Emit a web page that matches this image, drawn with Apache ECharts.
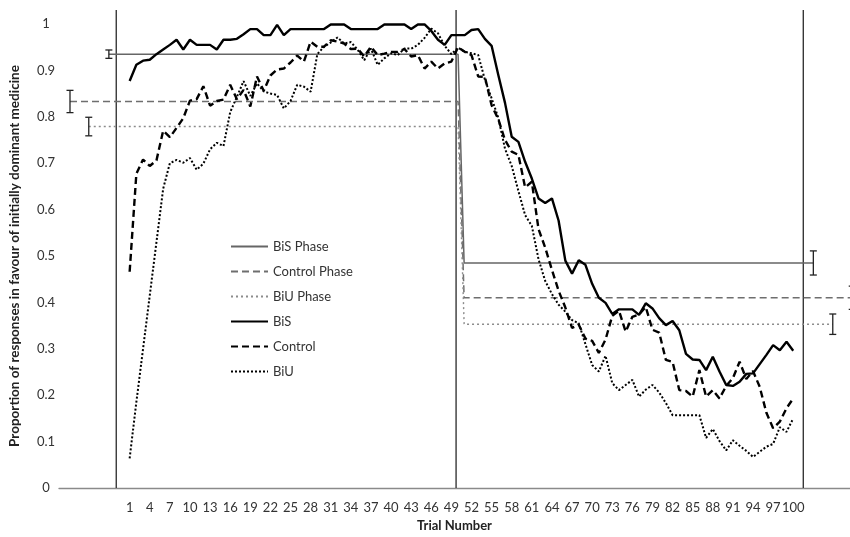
<!DOCTYPE html>
<html>
<head>
<meta charset="utf-8">
<script src="https://cdn.jsdelivr.net/npm/echarts@6/dist/echarts.min.js"></script>
<style>
  html, body { margin: 0; padding: 0; background: #fff; }
  #chart { width: 850px; height: 537px; }
</style>
</head>
<body>
<div id="chart"></div>
<script>
// Trial numbers (x categories) and axis tick labels
const trials = Array.from({ length: 100 }, (_, i) => i + 1);
const xTickLabels = [1, 4, 7, 10, 13, 16, 19, 22, 25, 28, 31, 34, 37, 40, 43, 46, 49,
  52, 55, 58, 61, 64, 67, 70, 73, 76, 79, 82, 85, 88, 91, 94, 97, 100];
const yTickLabels = [0, 0.1, 0.2, 0.3, 0.4, 0.5, 0.6, 0.7, 0.8, 0.9, 1];

// Proportion of responses favouring the initially dominant medicine, per trial
const bis = [
  0.877, 0.912, 0.921, 0.923, 0.935, 0.945, 0.955, 0.966, 0.945, 0.966,
  0.955, 0.955, 0.955, 0.945, 0.966, 0.966, 0.968, 0.978, 0.989, 0.989,
  0.976, 0.976, 0.998, 0.976, 0.989, 0.989, 0.989, 0.989, 0.989, 0.989,
  0.999, 0.999, 0.999, 0.989, 0.989, 0.989, 0.989, 0.989, 0.999, 0.999,
  0.999, 0.999, 0.989, 0.999, 0.999, 0.985, 0.966, 0.955, 0.976, 0.976,
  0.976, 0.987, 0.989, 0.968, 0.953, 0.890, 0.830, 0.757, 0.746, 0.703,
  0.667, 0.624, 0.614, 0.624, 0.576, 0.490, 0.462, 0.491, 0.481, 0.440,
  0.410, 0.399, 0.375, 0.385, 0.385, 0.385, 0.373, 0.398, 0.387, 0.366,
  0.351, 0.360, 0.340, 0.289, 0.277, 0.276, 0.254, 0.283, 0.251, 0.222,
  0.220, 0.229, 0.246, 0.247, 0.267, 0.287, 0.308, 0.297, 0.315, 0.296
];
const control = [
  0.466, 0.677, 0.708, 0.694, 0.706, 0.770, 0.756, 0.776, 0.797, 0.835,
  0.838, 0.866, 0.824, 0.834, 0.837, 0.869, 0.838, 0.858, 0.822, 0.887,
  0.856, 0.889, 0.902, 0.904, 0.917, 0.932, 0.919, 0.962, 0.951, 0.951,
  0.965, 0.962, 0.958, 0.946, 0.947, 0.930, 0.951, 0.933, 0.936, 0.940,
  0.940, 0.946, 0.930, 0.933, 0.904, 0.919, 0.904, 0.915, 0.919, 0.950,
  0.940, 0.933, 0.887, 0.886, 0.825, 0.795, 0.750, 0.725, 0.718, 0.648,
  0.660, 0.558, 0.518, 0.470, 0.425, 0.389, 0.345, 0.352, 0.322, 0.317,
  0.291, 0.320, 0.371, 0.382, 0.337, 0.369, 0.374, 0.390, 0.341, 0.335,
  0.276, 0.272, 0.211, 0.209, 0.197, 0.254, 0.197, 0.211, 0.193, 0.220,
  0.237, 0.272, 0.235, 0.252, 0.218, 0.162, 0.129, 0.143, 0.172, 0.193
];
const biu = [
  0.064, 0.185, 0.300, 0.415, 0.530, 0.645, 0.700, 0.707, 0.701, 0.711,
  0.686, 0.699, 0.730, 0.744, 0.737, 0.810, 0.843, 0.877, 0.845, 0.872,
  0.855, 0.850, 0.847, 0.818, 0.834, 0.869, 0.865, 0.854, 0.935, 0.951,
  0.960, 0.971, 0.958, 0.961, 0.945, 0.922, 0.947, 0.912, 0.926, 0.937,
  0.933, 0.947, 0.947, 0.955, 0.970, 0.990, 0.980, 0.953, 0.935, 0.949,
  0.940, 0.937, 0.933, 0.880, 0.840, 0.798, 0.731, 0.694, 0.640, 0.588,
  0.565, 0.493, 0.446, 0.418, 0.395, 0.380, 0.362, 0.355, 0.310, 0.265,
  0.251, 0.285, 0.226, 0.211, 0.222, 0.233, 0.197, 0.212, 0.222, 0.206,
  0.183, 0.157, 0.157, 0.157, 0.157, 0.157, 0.108, 0.127, 0.101, 0.081,
  0.103, 0.091, 0.080, 0.067, 0.078, 0.089, 0.095, 0.131, 0.121, 0.150
];

// Phase means (learning phase, reversal phase) and their error half-widths
const bisPhase = [0.935, 0.485];
const controlPhase = [0.833, 0.410];
const biuPhase = [0.779, 0.353];
const bisPhaseErr = [0.009, 0.026];
const controlPhaseErr = [0.024, 0.025];
const biuPhaseErr = [0.020, 0.022];

// Layout along the trial axis: where each phase line starts/ends (error bar spots)
const phaseSpan = {
  bis: [-2.1, 103.0],
  control: [-7.9, 108.8],
  biu: [-5.1, 105.9]
};
const phaseSwitch = [50.0, 50.9];
const dividers = [-1.0, 49.7, 101.5];
const dividerTop = 1.03;

const FONT = 'Lato, "Open Sans", sans-serif';
const TEXT = '#333';

function phaseLine(span, means) {
  return [
    [span[0], means[0]],
    [phaseSwitch[0], means[0]],
    [phaseSwitch[1], means[1]],
    [span[1], means[1]]
  ];
}
function errorRows(span, means, errs) {
  return [
    [span[0], means[0] - errs[0], means[0] + errs[0]],
    [span[1], means[1] - errs[1], means[1] + errs[1]]
  ];
}

const trialSeries = (arr) => trials.map((t, i) => [t, arr[i]]);

const dividerData = [];
dividers.forEach((d) => {
  dividerData.push([d, 0], [d, dividerTop], null);
});
dividerData.pop();

const errorData = []
  .concat(errorRows(phaseSpan.bis, bisPhase, bisPhaseErr))
  .concat(errorRows(phaseSpan.control, controlPhase, controlPhaseErr))
  .concat(errorRows(phaseSpan.biu, biuPhase, biuPhaseErr));

const chart = echarts.init(document.getElementById('chart'), null, { renderer: 'canvas' });

chart.setOption({
  animation: false,
  backgroundColor: '#fff',
  textStyle: { fontFamily: FONT },
  grid: { left: 55, right: 0, top: 24, bottom: 49, containLabel: false },
  legend: {
    orient: 'vertical',
    left: 225,
    top: 235,
    itemWidth: 37,
    itemHeight: 14,
    itemGap: 12,
    itemStyle: { opacity: 0 },
    textStyle: { fontFamily: FONT, fontSize: 13, color: TEXT },
    data: ['BiS Phase', 'Control Phase', 'BiU Phase', 'BiS', 'Control', 'BiU']
  },
  xAxis: {
    type: 'value',
    min: -9.54,
    max: 108.47,
    axisLine: { show: true, lineStyle: { color: '#8a8a8a', width: 1.3 } },
    axisTick: { show: false },
    splitLine: { show: false },
    axisLabel: {
      customValues: xTickLabels,
      fontFamily: FONT,
      fontSize: 13,
      color: TEXT,
      margin: 13
    },
    name: 'Trial Number',
    nameLocation: 'middle',
    nameGap: 26,
    nameTextStyle: { fontFamily: FONT, fontSize: 13, fontWeight: 'bold', color: '#222' }
  },
  yAxis: {
    type: 'value',
    min: 0,
    max: 1,
    axisLine: { show: false },
    axisTick: { show: false },
    splitLine: { show: false },
    axisLabel: {
      customValues: yTickLabels,
      fontFamily: FONT,
      fontSize: 13,
      color: TEXT,
      align: 'center',
      margin: 13
    },
    name: 'Proportion of responses in favour of initially dominant medicine',
    nameLocation: 'middle',
    nameGap: 37,
    nameRotate: 90,
    nameTextStyle: { fontFamily: FONT, fontSize: 13.5, fontWeight: 'bold', color: '#222' }
  },
  series: [
    {
      name: 'dividers',
      type: 'line',
      data: dividerData,
      symbol: 'none',
      clip: false,
      connectNulls: false,
      silent: true,
      lineStyle: { color: '#2a2a2a', width: 1.3 },
      z: 1
    },
    {
      name: 'BiS Phase',
      type: 'line',
      data: phaseLine(phaseSpan.bis, bisPhase),
      symbol: 'none',
      clip: false,
      lineStyle: { color: '#666', width: 1.5, type: 'solid' },
      itemStyle: { color: '#666' },
      z: 2
    },
    {
      name: 'Control Phase',
      type: 'line',
      data: phaseLine(phaseSpan.control, controlPhase),
      symbol: 'none',
      clip: false,
      lineStyle: { color: '#6e6e6e', width: 1.5, type: [7, 4] },
      itemStyle: { color: '#6e6e6e' },
      z: 2
    },
    {
      name: 'BiU Phase',
      type: 'line',
      data: phaseLine(phaseSpan.biu, biuPhase),
      symbol: 'none',
      clip: false,
      lineStyle: { color: '#8c8c8c', width: 1.4, type: [2, 3] },
      itemStyle: { color: '#8c8c8c' },
      z: 2
    },
    {
      name: 'errorBars',
      type: 'custom',
      data: errorData,
      silent: true,
      z: 3,
      renderItem: function (params, api) {
        const x = api.value(0);
        const lo = api.coord([x, api.value(1)]);
        const hi = api.coord([x, api.value(2)]);
        const cap = 3.5;
        const st = { stroke: '#222', lineWidth: 1.3 };
        return {
          type: 'group',
          children: [
            { type: 'line', shape: { x1: lo[0], y1: lo[1], x2: hi[0], y2: hi[1] }, style: st },
            { type: 'line', shape: { x1: lo[0] - cap, y1: lo[1], x2: lo[0] + cap, y2: lo[1] }, style: st },
            { type: 'line', shape: { x1: hi[0] - cap, y1: hi[1], x2: hi[0] + cap, y2: hi[1] }, style: st }
          ]
        };
      }
    },
    {
      name: 'BiS',
      type: 'line',
      data: trialSeries(bis),
      symbol: 'none',
      lineStyle: { color: '#000', width: 2.4, type: 'solid' },
      itemStyle: { color: '#000' },
      z: 5
    },
    {
      name: 'Control',
      type: 'line',
      data: trialSeries(control),
      symbol: 'none',
      lineStyle: { color: '#000', width: 2.4, type: [7, 4] },
      itemStyle: { color: '#000' },
      z: 5
    },
    {
      name: 'BiU',
      type: 'line',
      data: trialSeries(biu),
      symbol: 'none',
      lineStyle: { color: '#000', width: 2, type: [2, 2] },
      itemStyle: { color: '#000' },
      z: 5
    }
  ]
});
</script>
</body>
</html>
